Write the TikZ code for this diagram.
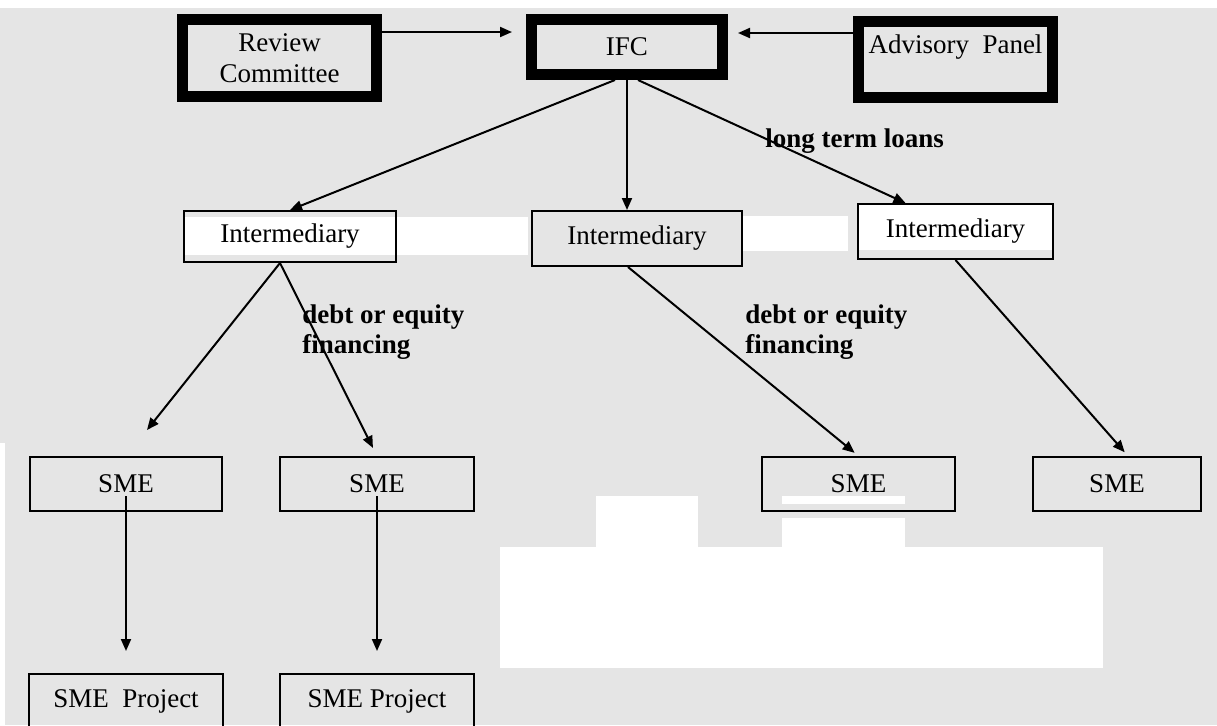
\documentclass[tikz,border=0pt]{standalone}
\usepackage{fontspec}
\setmainfont{Liberation Serif}
\usetikzlibrary{arrows.meta}
\definecolor{scan}{RGB}{229,229,229}
\begin{document}
\begin{tikzpicture}[x=0.5pt,y=-0.5pt,
  font=\fontsize{13.5}{15.5}\selectfont,
  heavybox/.style={draw,line width=5.5pt,inner sep=0pt,align=center},
  thinbox/.style={draw,line width=1pt,inner sep=0pt,align=center},
  arr/.style={line width=1pt,-{Triangle[length=6pt,width=5pt]}},
  note/.style={font=\fontsize{13.5}{15}\selectfont\bfseries,align=left,anchor=west,inner sep=0pt}]
\useasboundingbox (0,0) rectangle (1217,725);
\clip (0,0) rectangle (1217,725);
\fill[scan] (0,8) rectangle (1217,725);
\fill[white] (0,443) rectangle (5,725);
\foreach \xa/\ya/\xb/\yb in {183/217/528/255, 743/216/848/251, 858/205/1053/250,
  596/496/698/547, 782/496/905/504, 782/518/905/547, 500/547/1103/668}
  \fill[white] (\xa,\ya) rectangle (\xb,\yb);
% top row
\node[heavybox,minimum width=97pt,minimum height=38.5pt] (review) at (279.5,58) {Review\\Committee};
\node[heavybox,minimum width=95.5pt,minimum height=27.5pt] (ifc) at (627,47) {IFC};
\node[heavybox,minimum width=97pt,minimum height=38pt] (advisory) at (955.5,59.5) {Advisory\enspace Panel\\\mbox{}};
% intermediaries
\node[thinbox,minimum width=106pt,minimum height=25.5pt] (int1) at (290,236.5) {Intermediary};
\node[thinbox,minimum width=105pt,minimum height=27.5pt] (int2) at (637,238.5) {Intermediary};
\node[thinbox,minimum width=97.5pt,minimum height=27.5pt] (int3) at (955.5,231.5) {Intermediary};
% SMEs and projects
\foreach \n/\x/\w in {1/126/96,2/377/97,3/858.5/96.5,4/1117/84}
  \node[thinbox,minimum width=\w pt,minimum height=27pt] (sme\n) at (\x,484) {SME};
\node[thinbox,minimum width=97pt,minimum height=27.5pt] (proj1) at (126,701.5) {SME\enspace Project};
\node[thinbox,minimum width=97pt,minimum height=27.5pt] (proj2) at (377,701.5) {SME Project};
% connectors
\draw[arr,shorten >=7pt] (review.east |- 0,32) -- (ifc.west |- 0,32);
\draw[arr,shorten >=5pt] (advisory.west |- 0,33) -- (ifc.east |- 0,33);
\draw[arr] ([xshift=-6pt]ifc.south) -- (int1.north);
\draw[arr] (ifc.south) -- (ifc.south |- int2.north);
\draw[arr] ([xshift=5.5pt]ifc.south) -- ([xshift=-25pt]int3.north);
\node[note] (loans) at (765,141) {long term loans};
\draw[arr] ([xshift=-5pt]int1.south) -- ([xshift=10.5pt,yshift=13pt]sme1.north);
\draw[arr,shorten >=4.5pt] ([xshift=-5pt]int1.south) -- (sme2.north);
\draw[arr,shorten >=2.5pt] ([xshift=-4.5pt]int2.south) -- (sme3.north);
\draw[arr,shorten >=2.5pt] (int3.south) -- ([xshift=5.5pt]sme4.north);
\node[note] (debt1) at (302,332) {debt or equity\\financing};
\node[note] (debt2) at (745,332) {debt or equity\\financing};
\foreach \n in {1,2}
  \draw[arr,shorten >=11pt] ([yshift=8pt]sme\n.south) -- (proj\n.north);
\end{tikzpicture}
\end{document}
